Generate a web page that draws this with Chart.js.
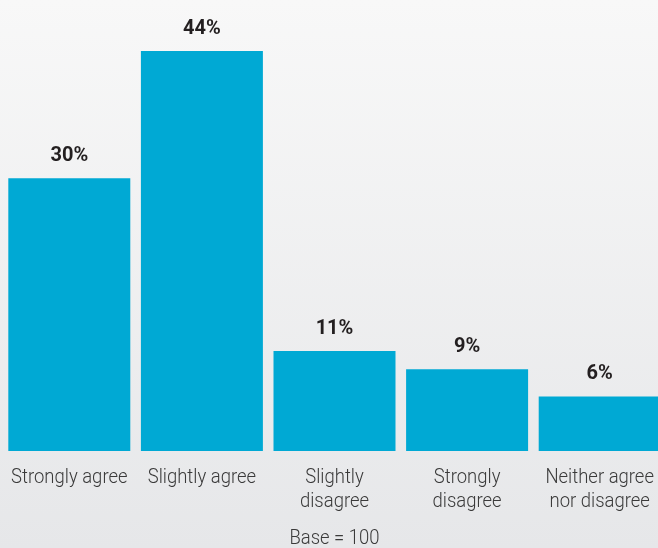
<!DOCTYPE html>
<html>
<head>
<meta charset="utf-8">
<script src="https://cdn.jsdelivr.net/npm/chart.js@4"></script>
<style>
  html, body { margin: 0; padding: 0; overflow: hidden; }
  body { width: 658px; height: 548px; background: linear-gradient(#f8f8f8, #e6e7e9); }
  #wrap { position: absolute; left: 0; top: 0; width: 666px; height: 548px; }
</style>
</head>
<body>
<div id="wrap"><canvas id="agreeChart"></canvas></div>
<script>
const categories = [
  ['Strongly agree'],
  ['Slightly agree'],
  ['Slightly', 'disagree'],
  ['Strongly', 'disagree'],
  ['Neither agree', 'nor disagree']
];
const shares = [30, 44, 11, 9, 6];
const baseNote = 'Base = 100';

// narrow light text: Roboto Light squeezed horizontally
function narrowText(ctx, text, x, y, squeeze) {
  ctx.save();
  ctx.translate(x, y);
  ctx.scale(squeeze, 1);
  ctx.fillText(text, 0, 0);
  ctx.restore();
}

// percentages above bars, category names and base note below
const barText = {
  id: 'barText',
  afterDatasetsDraw(chart) {
    const ctx = chart.ctx;
    const meta = chart.getDatasetMeta(0);
    const bottom = chart.chartArea.bottom;
    ctx.save();
    ctx.textAlign = 'center';
    ctx.textBaseline = 'middle';

    ctx.font = "bold 20px Roboto, sans-serif";
    ctx.fillStyle = '#231f20';
    meta.data.forEach((bar, i) => {
      ctx.fillText(shares[i] + '%', bar.x, bar.y - 22);
    });

    ctx.font = "300 21px Roboto, sans-serif";
    ctx.fillStyle = '#3a3a3a';
    meta.data.forEach((bar, i) => {
      categories[i].forEach((line, j) => {
        narrowText(ctx, line, bar.x, bottom + 27 + j * 24, 0.88);
      });
    });
    narrowText(ctx, baseNote, chart.scales.x.getPixelForValue(2), bottom + 88, 0.88);
    ctx.restore();
  }
};

new Chart(document.getElementById('agreeChart'), {
  type: 'bar',
  data: {
    labels: categories.map(c => c.join(' ')),
    datasets: [{
      data: shares,
      backgroundColor: '#00a9d4',
      barPercentage: 0.92,
      categoryPercentage: 1
    }]
  },
  options: {
    responsive: true,
    maintainAspectRatio: false,
    animation: false,
    layout: { padding: { left: 3, right: 0, top: 0, bottom: 97 } },
    plugins: { legend: { display: false }, tooltip: { enabled: false } },
    scales: {
      x: { display: false },
      y: { display: false, min: 0, max: 49.6 }
    }
  },
  plugins: [barText]
});
</script>
</body>
</html>
